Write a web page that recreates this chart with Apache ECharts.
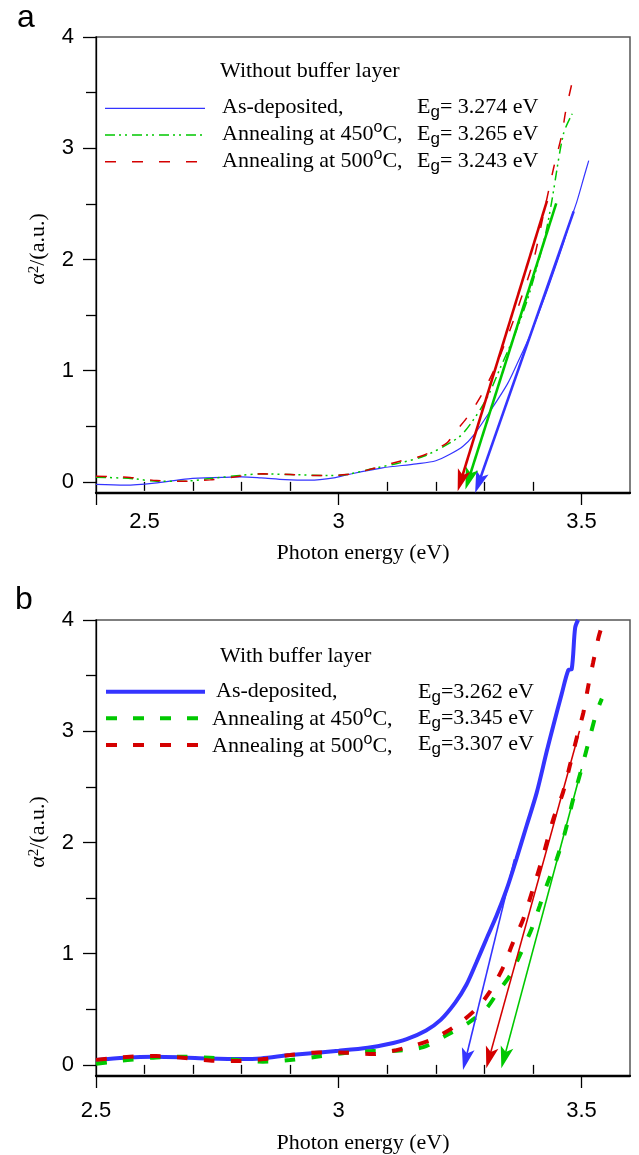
<!DOCTYPE html>
<html>
<head>
<meta charset="utf-8">
<script src="https://cdn.jsdelivr.net/npm/echarts@6/dist/echarts.min.js"></script>
<style>
  html, body { margin: 0; padding: 0; background: #fff; }
  #chart { width: 639px; height: 1155px; }
</style>
</head>
<body>
<div id="chart"></div>
<script>
// 光学带隙 Tauc 图：上 (a) 无缓冲层，下 (b) 有缓冲层

// ---- 坐标轴刻度 ----
const yMajorTicks = [0, 1, 2, 3, 4];
const yMinorTicks = [0.5, 1.5, 2.5, 3.5];
const xMajorTicks = [2.5, 3.0, 3.5];
const xMinorTicks = [2.6, 2.7, 2.8, 2.9, 3.1, 3.2, 3.3, 3.4];
// 原图 (a) 的 "2.5" 标在 2.6 那根刻度下
const xLabelValsA = [2.6, 3.0, 3.5];
const xLabelTextA = ['2.5', '3', '3.5'];
const xLabelValsB = [2.5, 3.0, 3.5];
const xLabelTextB = ['2.5', '3', '3.5'];

// ---- 图例文字 ----
const legendTitleA = 'Without buffer layer';
const legendTitleB = 'With buffer layer';
const sampleNames = ['As-deposited,', 'Annealing at 450', 'Annealing at 500'];
const egA = ['3.274', '3.265', '3.243'];
const egB = ['3.262', '3.345', '3.307'];

// ---- (a) Without buffer layer ----
const aAsDepX = [2.50, 2.56, 2.62, 2.69, 2.76, 2.80, 2.84, 2.89, 2.94, 2.99, 3.02, 3.09, 3.16, 3.20, 3.23, 3.256, 3.278, 3.312, 3.347, 3.367, 3.395, 3.429, 3.46, 3.477, 3.491, 3.505, 3.515];
const aAsDepY = [-0.023, -0.030, -0.012, 0.027, 0.040, 0.045, 0.036, 0.020, 0.015, 0.036, 0.067, 0.126, 0.162, 0.19, 0.25, 0.32, 0.42, 0.637, 0.877, 1.058, 1.328, 1.718, 2.108, 2.347, 2.527, 2.739, 2.889];
const a450X = [2.50, 2.55, 2.58, 2.625, 2.68, 2.735, 2.796, 2.838, 2.90, 2.98, 3.016, 3.071, 3.126, 3.175, 3.229, 3.257, 3.302, 3.333, 3.36, 3.388, 3.408, 3.426, 3.439, 3.463, 3.481];
const a450Y = [0.042, 0.035, 0.027, 0.006, 0.006, 0.030, 0.058, 0.072, 0.066, 0.057, 0.066, 0.12, 0.171, 0.23, 0.35, 0.44, 0.727, 1.027, 1.297, 1.628, 1.928, 2.228, 2.527, 3.13, 3.31];
const a500X = [2.50, 2.57, 2.625, 2.68, 2.735, 2.796, 2.844, 2.90, 2.955, 3.016, 3.071, 3.126, 3.175, 3.223, 3.236, 3.264, 3.291, 3.319, 3.347, 3.374, 3.401, 3.422, 3.443, 3.46, 3.467, 3.481];
const a500Y = [0.051, 0.040, 0.012, 0.006, 0.018, 0.050, 0.072, 0.066, 0.057, 0.066, 0.120, 0.186, 0.240, 0.351, 0.427, 0.577, 0.757, 0.997, 1.297, 1.628, 1.988, 2.409, 2.829, 3.13, 3.32, 3.595];
// 切线箭头 [x起, y起, x终, y终]：as-deposited, 450, 500
const aArrows = [
  [3.484, 2.432, 3.281, -0.100],
  [3.448, 2.505, 3.261, -0.068],
  [3.429, 2.527, 3.245, -0.084]
];

// ---- (b) With buffer layer ----
const bAsDepX = [2.50, 2.56, 2.62, 2.68, 2.73, 2.80, 2.84, 2.90, 3.00, 3.06, 3.10, 3.14, 3.18, 3.21, 3.24, 3.263, 3.284, 3.304, 3.325, 3.346, 3.366, 3.387, 3.408, 3.428, 3.442, 3.459, 3.473, 3.480, 3.487, 3.493];
const bAsDepY = [0.043, 0.065, 0.073, 0.067, 0.058, 0.052, 0.058, 0.088, 0.127, 0.154, 0.185, 0.232, 0.31, 0.405, 0.56, 0.72, 0.925, 1.13, 1.34, 1.58, 1.85, 2.15, 2.45, 2.81, 3.05, 3.33, 3.55, 3.56, 3.93, 4.0];
const b450X = [2.50, 2.565, 2.624, 2.679, 2.734, 2.792, 2.844, 2.899, 2.954, 3.016, 3.071, 3.119, 3.174, 3.222, 3.27, 3.304, 3.328, 3.353, 3.373, 3.397, 3.414, 3.428, 3.449, 3.466, 3.483, 3.50, 3.518, 3.531, 3.542];
const b450Y = [0.01, 0.043, 0.067, 0.073, 0.064, 0.043, 0.029, 0.043, 0.073, 0.109, 0.124, 0.128, 0.16, 0.267, 0.387, 0.507, 0.657, 0.805, 0.985, 1.22, 1.43, 1.61, 1.85, 2.09, 2.39, 2.66, 2.958, 3.168, 3.293];
const b500X = [2.50, 2.57, 2.624, 2.68, 2.734, 2.792, 2.844, 2.90, 2.96, 3.016, 3.071, 3.119, 3.188, 3.243, 3.284, 3.311, 3.339, 3.359, 3.38, 3.40, 3.421, 3.442, 3.462, 3.476, 3.493, 3.504, 3.514, 3.524, 3.535, 3.542];
const b500Y = [0.045, 0.073, 0.079, 0.064, 0.040, 0.034, 0.052, 0.088, 0.112, 0.109, 0.097, 0.133, 0.222, 0.357, 0.507, 0.656, 0.88, 1.10, 1.31, 1.58, 1.88, 2.21, 2.45, 2.689, 2.988, 3.168, 3.406, 3.616, 3.84, 3.944];
const bArrows = [
  [3.362, 1.850, 3.256, -0.047],
  [3.500, 2.660, 3.335, -0.031],
  [3.496, 3.003, 3.304, -0.031]
];

const BLUE = '#3434ff';
const GREEN = '#00c800';
const RED = '#d40000';
const SERIF = '"Liberation Serif", "Times New Roman", serif';
const SANS = '"Liberation Sans", Arial, sans-serif';

const pairs = (xs, ys) => xs.map((x, i) => [x, ys[i]]);

const textRich = {
  n: { fontFamily: SERIF, fontSize: 22, color: '#000', lineHeight: 28 },
  sup: { fontFamily: SANS, fontSize: 16, color: '#000', lineHeight: 16, verticalAlign: 'top' },
  sub: { fontFamily: SANS, fontSize: 17, color: '#000', lineHeight: 14, verticalAlign: 'bottom' }
};

const nameText = (i) => i === 0
  ? '{n|' + sampleNames[0] + '}'
  : '{n|' + sampleNames[i] + '}{sup|o}{n|C,}';

// 箭头：线 + 带缺口的实心三角
const arrowRender = (lineW) => (params, api) => {
  const p1 = api.coord([api.value(0), api.value(1)]);
  const p2 = api.coord([api.value(2), api.value(3)]);
  const dx = p2[0] - p1[0], dy = p2[1] - p1[1];
  const len = Math.sqrt(dx * dx + dy * dy);
  const ux = dx / len, uy = dy / len;
  const headLen = 22, half = 6.5;
  const bx = p2[0] - ux * headLen, by = p2[1] - uy * headLen;
  const nx = -uy, ny = ux;
  const color = api.visual('color');
  return {
    type: 'group',
    children: [
      { type: 'line', shape: { x1: p1[0], y1: p1[1], x2: bx + ux * 6, y2: by + uy * 6 },
        style: { stroke: color, lineWidth: lineW } },
      { type: 'polygon',
        shape: { points: [[p2[0], p2[1]], [bx + nx * half, by + ny * half], [bx + ux * 5, by + uy * 5], [bx - nx * half, by - ny * half]] },
        style: { fill: color } }
    ]
  };
};

const arrowSeries = (arr, idx, color, lineW) => ({
  type: 'custom',
  xAxisIndex: idx * 2,
  yAxisIndex: idx * 2,
  renderItem: arrowRender(lineW),
  itemStyle: { color: color },
  encode: { x: [0, 2], y: [1, 3] },
  data: [arr],
  z: 5
});

const makeX = (idx, labelVals, labelText, labelMargin, nameGap) => ([
  {
    gridIndex: idx, type: 'value', min: 2.5, max: 3.6,
    name: 'Photon energy (eV)', nameLocation: 'middle', nameGap: nameGap,
    nameTextStyle: { fontFamily: SERIF, fontSize: 22, color: '#000' },
    axisLine: { show: true, onZero: false, lineStyle: { color: '#000', width: 2.3 } },
    axisTick: { show: true, customValues: xMajorTicks, length: 12, lineStyle: { color: '#000', width: 1.3 } },
    axisLabel: {
      customValues: labelVals, margin: labelMargin, fontFamily: SANS, fontSize: 22, color: '#000',
      formatter: (v) => {
        const i = labelVals.findIndex((t) => Math.abs(t - v) < 1e-6);
        return i < 0 ? '' : labelText[i];
      }
    },
    splitLine: { show: false }
  },
  {
    gridIndex: idx, type: 'value', min: 2.5, max: 3.6, position: 'bottom',
    axisLine: { show: false },
    axisTick: { show: true, customValues: xMinorTicks, length: 9, lineStyle: { color: '#000', width: 1.3 } },
    axisLabel: { show: false },
    splitLine: { show: false }
  }
]);

const makeY = (idx) => ([
  {
    gridIndex: idx, type: 'value', min: -0.1, max: 4, position: 'left',
    name: '{n|α}{s|2}{n|/(a.u.)}', nameLocation: 'middle', nameGap: 47,
    nameTextStyle: {
      padding: [0, 0, 0, 32],
      rich: {
        n: { fontFamily: SERIF, fontSize: 22, color: '#000' },
        s: { fontFamily: SERIF, fontSize: 15, color: '#000', verticalAlign: 'top', lineHeight: 12 }
      }
    },
    axisLine: { show: true, onZero: false, lineStyle: { color: '#000', width: 1.3 } },
    axisTick: { show: true, customValues: yMajorTicks, length: 13, lineStyle: { color: '#000', width: 1.3 } },
    axisLabel: { customValues: yMajorTicks, margin: 22, fontFamily: SANS, fontSize: 22, color: '#000' },
    splitLine: { show: false }
  },
  {
    gridIndex: idx, type: 'value', min: -0.1, max: 4, position: 'left',
    axisLine: { show: false },
    axisTick: { show: true, customValues: yMinorTicks, length: 10, lineStyle: { color: '#000', width: 1.3 } },
    axisLabel: { show: false },
    splitLine: { show: false }
  }
]);

// 图例：样例线 + 富文本
const legendGraphics = (cfg) => {
  const els = [];
  els.push({ type: 'text', x: cfg.titleX, y: cfg.titleY,
    style: { text: cfg.title, font: '22px ' + SERIF, fill: '#000', verticalAlign: 'middle' } });
  cfg.rows.forEach((ry, i) => {
    const st = cfg.styles[i];
    els.push({ type: 'line', shape: { x1: cfg.lineX1, y1: ry, x2: cfg.lineX2, y2: ry },
      style: { stroke: st.color, lineWidth: st.width, lineDash: st.dash || null } });
    els.push({ type: 'text', x: cfg.nameX[i], y: cfg.textY[i],
      style: { text: nameText(i), rich: textRich, verticalAlign: 'middle' } });
    els.push({ type: 'text', x: cfg.egX, y: cfg.egY[i],
      style: { text: '{n|E}{sub|g}{n|' + cfg.eq + cfg.eg[i] + ' eV}', rich: textRich, verticalAlign: 'middle' } });
  });
  return els;
};

const styleA = [
  { color: BLUE, width: 1.2 },
  { color: GREEN, width: 1.5, dash: [10, 4, 2, 4, 2, 5] },
  { color: RED, width: 1.5, dash: [11, 16] }
];
const styleB = [
  { color: BLUE, width: 4 },
  { color: GREEN, width: 4, dash: [11, 16] },
  { color: RED, width: 4, dash: [11, 16] }
];

const lineSeries = (name, idx, data, st, smooth) => ({
  name: name, type: 'line', xAxisIndex: idx * 2, yAxisIndex: idx * 2,
  data: data, showSymbol: false, symbol: 'none', smooth: smooth,
  lineStyle: { color: st.color, width: st.width, type: st.dash || 'solid' },
  itemStyle: { color: st.color }, z: 3
});

const chart = echarts.init(document.getElementById('chart'), null, { renderer: 'canvas' });

chart.setOption({
  animation: false,
  backgroundColor: '#fff',
  grid: [
    { left: 96, top: 37, width: 534, height: 456, show: true, borderColor: '#555', borderWidth: 1.5 },
    { left: 96, top: 620, width: 534, height: 457, show: true, borderColor: '#555', borderWidth: 1.5 }
  ],
  xAxis: [...makeX(0, xLabelValsA, xLabelTextA, 18, 49), ...makeX(1, xLabelValsB, xLabelTextB, 24, 56)],
  yAxis: [...makeY(0), ...makeY(1)],
  series: [
    lineSeries('As-deposited (a)', 0, pairs(aAsDepX, aAsDepY), styleA[0], 0.3),
    lineSeries('Annealing at 450 °C (a)', 0, pairs(a450X, a450Y), styleA[1], 0.3),
    lineSeries('Annealing at 500 °C (a)', 0, pairs(a500X, a500Y), styleA[2], 0.3),
    lineSeries('As-deposited (b)', 1, pairs(bAsDepX, bAsDepY), styleB[0], 0.3),
    lineSeries('Annealing at 450 °C (b)', 1, pairs(b450X, b450Y), styleB[1], 0.3),
    lineSeries('Annealing at 500 °C (b)', 1, pairs(b500X, b500Y), styleB[2], 0.3),
    arrowSeries(aArrows[0], 0, BLUE, 2.6),
    arrowSeries(aArrows[1], 0, GREEN, 2.6),
    arrowSeries(aArrows[2], 0, RED, 2.6),
    arrowSeries(bArrows[0], 1, BLUE, 1.6),
    arrowSeries(bArrows[1], 1, GREEN, 1.6),
    arrowSeries(bArrows[2], 1, RED, 1.6)
  ],
  graphic: [
    { type: 'text', x: 17, y: 18, style: { text: 'a', font: '32px ' + SANS, fill: '#000', verticalAlign: 'middle' } },
    { type: 'text', x: 15, y: 600, style: { text: 'b', font: '32px ' + SANS, fill: '#000', verticalAlign: 'middle' } },
    ...legendGraphics({
      title: legendTitleA, titleX: 220, titleY: 71,
      rows: [108.3, 135, 161.7], lineX1: 105, lineX2: 205, styles: styleA,
      nameX: [222, 222, 222], textY: [107, 134, 161],
      egX: 417, egY: [107, 134, 161], eq: '= ', eg: egA
    }),
    ...legendGraphics({
      title: legendTitleB, titleX: 220, titleY: 656.7,
      rows: [691.7, 718.3, 745], lineX1: 106, lineX2: 205, styles: styleB,
      nameX: [216, 212, 212], textY: [691, 719, 746],
      egX: 418, egY: [692, 718, 744], eq: '=', eg: egB
    })
  ]
});

window.addEventListener('resize', () => chart.resize());
</script>
</body>
</html>
